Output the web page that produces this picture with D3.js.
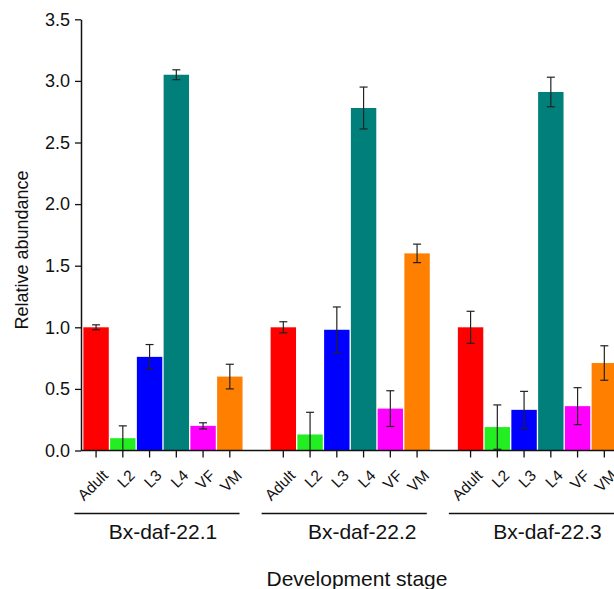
<!DOCTYPE html>
<html>
<head>
<meta http-equiv="Content-type" content="text/html; charset=utf-8">
<title>Relative abundance</title>
<script src="https://cdn.jsdelivr.net/npm/d3@7"></script>
<style>
  body { margin: 0; background: #fff; overflow: hidden; }
  svg { display: block; }
  svg text { font-family: Arial, "Liberation Sans", sans-serif; fill: #111; }
</style>
</head>
<body>
<script type="text/javascript">

  // DATA
  var groups = ["Bx-daf-22.1", "Bx-daf-22.2", "Bx-daf-22.3"];
  var stages = ["Adult", "L2", "L3", "L4", "VF", "VM"];
  var colors = ["#ff0000", "#22ee22", "#0000ff", "#007f7b", "#ff00ff", "#ff8000"];

  var means22_1 = [1.00, 0.10, 0.76, 3.05, 0.20, 0.60];
  var errs22_1  = [0.02, 0.10, 0.10, 0.04, 0.025, 0.10];
  var means22_2 = [1.00, 0.13, 0.98, 2.78, 0.34, 1.60];
  var errs22_2  = [0.045, 0.18, 0.185, 0.17, 0.145, 0.075];
  var means22_3 = [1.00, 0.19, 0.33, 2.91, 0.36, 0.71];
  var errs22_3  = [0.13, 0.18, 0.15, 0.12, 0.15, 0.14];

  var yTicks = [0, 0.5, 1.0, 1.5, 2.0, 2.5, 3.0, 3.5];

  // LAYOUT
  var width = 614, height = 589;
  var axisX = 81, baseY = 450.5, topY = 19.3;
  var labelShift = [0, 12, 10];   // group names sit a bit right of the bars' centre

  var allMeans = [means22_1, means22_2, means22_3];
  var allErrs = [errs22_1, errs22_2, errs22_3];

  function init() {
    var svg = d3.select("body").append("svg")
        .attr("width", width)
        .attr("height", height);

    // one slot per bar plus an empty slot between groups
    var slots = [];
    var bars = [];
    groups.forEach(function(g, gi) {
      stages.forEach(function(s, si) {
        var key = g + "|" + s;
        slots.push(key);
        bars.push({key: key, group: gi, stage: s, color: colors[si],
                   v: allMeans[gi][si], e: allErrs[gi][si]});
      });
      if (gi < groups.length - 1) slots.push("gap" + gi);
    });

    var x = d3.scaleBand()
        .domain(slots)
        .range([82.7, 617.7])
        .paddingInner(0.05)
        .paddingOuter(0.025);

    var y = d3.scaleLinear()
        .domain([0, 3.5])
        .range([baseY, topY]);

    function cx(d) { return x(d.key) + x.bandwidth() / 2; }

    // bars
    svg.selectAll("rect.bar")
        .data(bars)
        .enter().append("rect")
        .attr("class", "bar")
        .attr("x", function(d) { return x(d.key); })
        .attr("width", x.bandwidth())
        .attr("y", function(d) { return y(d.v); })
        .attr("height", function(d) { return y(0) - y(d.v); })
        .attr("fill", function(d) { return d.color; });

    // error bars
    var eb = svg.selectAll("g.err")
        .data(bars)
        .enter().append("g")
        .attr("class", "err")
        .attr("stroke", "#222")
        .attr("stroke-width", 1.2);
    eb.append("line")
        .attr("x1", cx).attr("x2", cx)
        .attr("y1", function(d) { return y(d.v + d.e); })
        .attr("y2", function(d) { return y(Math.max(0, d.v - d.e)); });
    eb.append("line")
        .attr("x1", function(d) { return cx(d) - 4; })
        .attr("x2", function(d) { return cx(d) + 4; })
        .attr("y1", function(d) { return y(d.v + d.e); })
        .attr("y2", function(d) { return y(d.v + d.e); });
    eb.filter(function(d) { return d.v - d.e > 0.005; })
      .append("line")
        .attr("x1", function(d) { return cx(d) - 4; })
        .attr("x2", function(d) { return cx(d) + 4; })
        .attr("y1", function(d) { return y(d.v - d.e); })
        .attr("y2", function(d) { return y(d.v - d.e); });

    // y axis
    var yAxis = svg.append("g")
        .attr("transform", "translate(" + axisX + ",0)")
        .call(d3.axisLeft(y).tickValues(yTicks).tickFormat(d3.format(".1f")).tickSize(6).tickSizeOuter(0).tickPadding(5));
    yAxis.select(".domain").attr("stroke", "#111").attr("stroke-width", 1.5);
    yAxis.selectAll(".tick line").attr("stroke", "#111").attr("stroke-width", 1.3);
    yAxis.selectAll("text").attr("font-size", 18).style("font-family", "Arial, 'Liberation Sans', sans-serif").attr("fill", "#111");

    // x axis
    var xAxis = svg.append("g")
        .attr("transform", "translate(0," + baseY + ")")
        .call(d3.axisBottom(x).tickValues(bars.map(function(d) { return d.key; }))
              .tickFormat(function(k) { return k.split("|")[1]; })
              .tickSize(7).tickSizeOuter(0));
    xAxis.select(".domain").remove();
    xAxis.selectAll(".tick line").attr("stroke", "#111").attr("stroke-width", 1.3);
    xAxis.selectAll("text")
        .attr("font-size", 15.5)
        .style("font-family", "Arial, 'Liberation Sans', sans-serif")
        .attr("fill", "#111")
        .attr("text-anchor", "end")
        .attr("dy", null)
        .attr("y", null)
        .attr("transform", "translate(13,26) rotate(-45)");
    svg.append("line")
        .attr("x1", axisX).attr("x2", width)
        .attr("y1", baseY).attr("y2", baseY)
        .attr("stroke", "#111").attr("stroke-width", 1.5);

    // group underlines and names
    groups.forEach(function(g, gi) {
      var first = x(g + "|" + stages[0]);
      var last = x(g + "|" + stages[stages.length - 1]) + x.bandwidth();
      svg.append("line")
          .attr("x1", first - 9).attr("x2", last - 3)
          .attr("y1", 513.5).attr("y2", 513.5)
          .attr("stroke", "#111").attr("stroke-width", 1.5);
      svg.append("text")
          .attr("x", (first + last) / 2 + labelShift[gi])
          .attr("y", 539)
          .attr("text-anchor", "middle")
          .attr("font-size", 21)
          .text(g);
    });

    // axis titles
    svg.append("text")
        .attr("transform", "translate(28,250) rotate(-90)")
        .attr("text-anchor", "middle")
        .attr("font-size", 18)
        .text("Relative abundance");

    svg.append("text")
        .attr("x", 357)
        .attr("y", 586)
        .attr("text-anchor", "middle")
        .attr("font-size", 21)
        .text("Development stage");
  }

  init();
</script>
</body>
</html>
